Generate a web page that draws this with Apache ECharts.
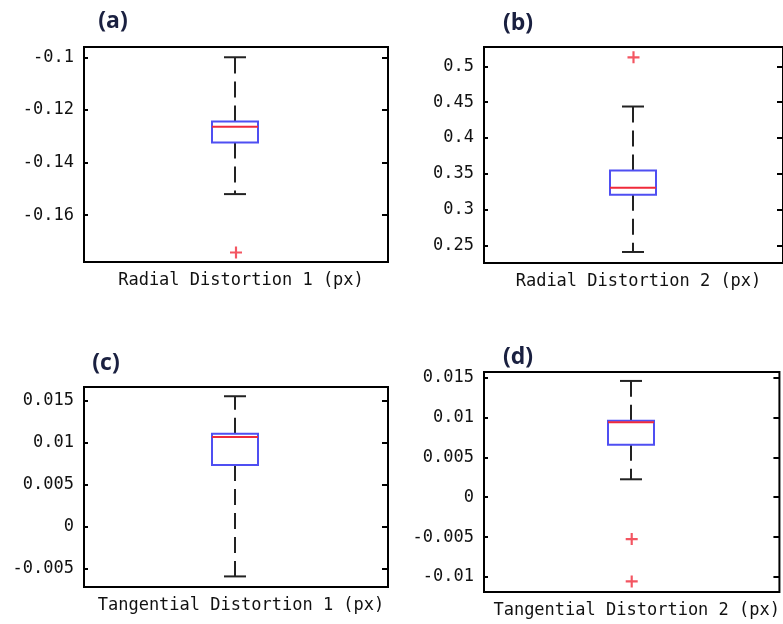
<!DOCTYPE html>
<html>
<head>
<meta charset="utf-8">
<script src="https://cdn.jsdelivr.net/npm/echarts@6/dist/echarts.min.js"></script>
<style>
html,body{margin:0;padding:0;background:#fff;}
#chart{width:783px;height:624px;}
</style>
</head>
<body>
<div id="chart"></div>
<script>
// ---- data ----
const panelLabels = ['(a)', '(b)', '(c)', '(d)'];
const categoriesA = ['Radial Distortion 1 (px)'];
const categoriesB = ['Radial Distortion 2 (px)'];
const categoriesC = ['Tangential Distortion 1 (px)'];
const categoriesD = ['Tangential Distortion 2 (px)'];

// [lower whisker, Q1, median, Q3, upper whisker]
const statsA = [-0.152, -0.1324, -0.1264, -0.1244, -0.1];
const statsB = [0.2408, 0.3207, 0.3304, 0.3546, 0.4439];
const statsC = [-0.00588, 0.00737, 0.0107, 0.0111, 0.01556];
const statsD = [0.00225, 0.00659, 0.0094, 0.00958, 0.01458];

const outliersA = [-0.1742];
const outliersB = [0.5126];
const outliersC = [];
const outliersD = [-0.00525, -0.01055];

const ticksA = [-0.16, -0.14, -0.12, -0.1];
const ticksB = [0.25, 0.3, 0.35, 0.4, 0.45, 0.5];
const ticksC = [-0.005, 0, 0.005, 0.01, 0.015];
const ticksD = [-0.01, -0.005, 0, 0.005, 0.01, 0.015];

const rangeA = [-0.1778, -0.0961];
const rangeB = [0.2254, 0.527];
const rangeC = [-0.00714, 0.01666];
const rangeD = [-0.01188, 0.0157];

// ---- layout / style ----
const grids = [
  {left: 84, top: 47, width: 304, height: 215},
  {left: 484, top: 47, width: 304, height: 216},
  {left: 84, top: 387, width: 304, height: 200},
  {left: 484, top: 372, width: 304, height: 220}
];
const labelPos = [[113, 21], [518, 23], [106, 363], [518, 357]];
const panels = [
  {cats: categoriesA, stats: statsA, out: outliersA, ticks: ticksA, range: rangeA},
  {cats: categoriesB, stats: statsB, out: outliersB, ticks: ticksB, range: rangeB},
  {cats: categoriesC, stats: statsC, out: outliersC, ticks: ticksC, range: rangeC},
  {cats: categoriesD, stats: statsD, out: outliersD, ticks: ticksD, range: rangeD}
];

const MONO = '"DejaVu Sans Mono", "Liberation Mono", monospace';
const BOX_HALF = 23, CAP_HALF = 11;
const BLUE = '#4f4ff2', RED = '#f02a3a', WHISK = '#222';

function renderBox(params, api) {
  const x = api.value(0);
  const pMin = api.coord([x, api.value(1)]);
  const pQ1 = api.coord([x, api.value(2)]);
  const pMed = api.coord([x, api.value(3)]);
  const pQ3 = api.coord([x, api.value(4)]);
  const pMax = api.coord([x, api.value(5)]);
  const cx = Math.round(pMed[0]) - 1;
  const dash = {stroke: WHISK, lineWidth: 2, lineDash: [16, 8]};
  const solid = {stroke: WHISK, lineWidth: 2};
  return {
    type: 'group',
    children: [
      {type: 'line', shape: {x1: cx, y1: pQ1[1], x2: cx, y2: pMin[1]}, style: dash},
      {type: 'line', shape: {x1: cx, y1: pQ3[1], x2: cx, y2: pMax[1]}, style: dash},
      {type: 'line', shape: {x1: cx - CAP_HALF, y1: pMin[1], x2: cx + CAP_HALF, y2: pMin[1]}, style: solid},
      {type: 'line', shape: {x1: cx - CAP_HALF, y1: pMax[1], x2: cx + CAP_HALF, y2: pMax[1]}, style: solid},
      {type: 'rect', shape: {x: cx - BOX_HALF, y: pQ3[1], width: 2 * BOX_HALF, height: pQ1[1] - pQ3[1]},
        style: {fill: '#fff', stroke: BLUE, lineWidth: 2}},
      {type: 'line', shape: {x1: cx - BOX_HALF, y1: pMed[1], x2: cx + BOX_HALF, y2: pMed[1]},
        style: {stroke: RED, lineWidth: 2}}
    ]
  };
}

const plusPath = 'path://M4.1,0H5.9V4.1H10V5.9H5.9V10H4.1V5.9H0V4.1H4.1Z';

const option = {
  animation: false,
  backgroundColor: '#fff',
  grid: grids.map(g => Object.assign({show: true, borderColor: '#000', borderWidth: 2, backgroundColor: 'transparent'}, g)),
  xAxis: panels.map((p, i) => ({
    type: 'category', gridIndex: i, data: p.cats,
    axisLine: {show: false}, axisTick: {show: false}, splitLine: {show: false},
    axisLabel: {margin: 10, fontFamily: MONO, fontSize: 17, color: '#111', padding: [0, 0, 0, 10]}
  })),
  yAxis: [].concat(...panels.map((p, i) => [
    {
      type: 'value', gridIndex: i, min: p.range[0], max: p.range[1], position: 'left',
      axisLine: {show: false}, splitLine: {show: false},
      axisTick: {show: true, inside: true, length: 4, lineStyle: {color: '#000', width: 2}, customValues: p.ticks},
      axisLabel: {margin: 10, fontFamily: MONO, fontSize: 17, color: '#111', customValues: p.ticks}
    },
    {
      type: 'value', gridIndex: i, min: p.range[0], max: p.range[1], position: 'right',
      axisLine: {show: false}, splitLine: {show: false},
      axisTick: {show: true, inside: true, length: 6, lineStyle: {color: '#000', width: 2}, customValues: p.ticks},
      axisLabel: {show: false}
    }
  ])),
  series: [].concat(...panels.map((p, i) => [
    {
      type: 'custom', xAxisIndex: i, yAxisIndex: 2 * i,
      renderItem: renderBox,
      encode: {x: 0, y: [1, 2, 3, 4, 5]},
      data: [[0].concat(p.stats)],
      z: 3
    },
    {
      type: 'scatter', xAxisIndex: i, yAxisIndex: 2 * i,
      symbol: plusPath, symbolSize: 12,
      itemStyle: {color: RED},
      data: p.out.map(v => [0, v]),
      z: 4
    }
  ])),
  graphic: panelLabels.map((t, i) => ({
    type: 'text', x: labelPos[i][0], y: labelPos[i][1],
    style: {text: t, fill: '#1a2040', font: 'bold 23px "Open Sans", sans-serif',
      textAlign: 'center', textVerticalAlign: 'middle'}
  }))
};

const chart = echarts.init(document.getElementById('chart'), null, {renderer: 'canvas'});
chart.setOption(option);
</script>
</body>
</html>
